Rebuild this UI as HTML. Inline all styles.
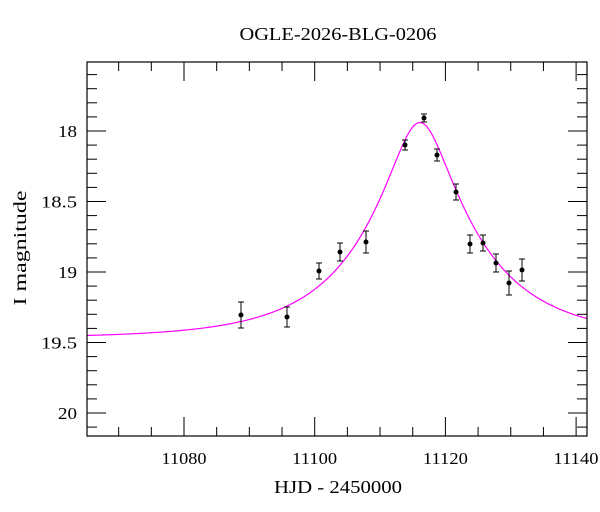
<!DOCTYPE html>
<html><head><meta charset="utf-8"><style>
html,body{margin:0;padding:0;background:#fff;}
svg{display:block;font-family:"Liberation Serif",serif;}
</style></head><body>
<svg id="s" width="600" height="512" xmlns="http://www.w3.org/2000/svg">
<rect x="0" y="0" width="600" height="512" fill="#fff"/>
<text x="338" y="40" font-size="18" text-anchor="middle" textLength="197" lengthAdjust="spacingAndGlyphs">OGLE-2026-BLG-0206</text>
<g id="ticks" stroke="#000" stroke-width="1"></g>
<path id="curve" fill="none" stroke="#ff00ff" stroke-width="1.2"/>
<g id="pts"></g>
<rect x="87" y="62" width="500" height="374" fill="none" stroke="#000" stroke-width="1.2"/>
<g font-size="17" text-anchor="middle">
<text x="184" y="464" textLength="45" lengthAdjust="spacingAndGlyphs">11080</text>
<text x="314.7" y="464" textLength="45" lengthAdjust="spacingAndGlyphs">11100</text>
<text x="445.4" y="464" textLength="45" lengthAdjust="spacingAndGlyphs">11120</text>
<text x="576" y="464" textLength="45" lengthAdjust="spacingAndGlyphs">11140</text>
</g>
<g font-size="17" text-anchor="end">
<text x="77" y="137" textLength="19" lengthAdjust="spacingAndGlyphs">18</text>
<text x="77" y="207.5" textLength="36" lengthAdjust="spacingAndGlyphs">18.5</text>
<text x="77" y="278" textLength="19" lengthAdjust="spacingAndGlyphs">19</text>
<text x="77" y="348.5" textLength="36" lengthAdjust="spacingAndGlyphs">19.5</text>
<text x="77" y="419" textLength="19" lengthAdjust="spacingAndGlyphs">20</text>
</g>
<text x="338" y="493" font-size="18" text-anchor="middle" textLength="128" lengthAdjust="spacingAndGlyphs">HJD - 2450000</text>
<text transform="translate(26,248) rotate(-90)" font-size="18" text-anchor="middle" textLength="115" lengthAdjust="spacingAndGlyphs">I magnitude</text>
</svg>
<script>
function X(t){return 184+(t-11080)*6.535;}
function Y(m){return 131+(m-18)*141;}
var g=document.getElementById('ticks'),h='';
for(var t=11065;t<=11141;t+=5){var x=X(t);if(x<87||x>587)continue;var L=(t%20==0)?19:9;
h+='<line x1="'+x+'" y1="436" x2="'+x+'" y2="'+(436-L)+'"/><line x1="'+x+'" y1="62" x2="'+x+'" y2="'+(62+L)+'"/>';}
for(var i=176;i<=201;i++){var m=i/10,y=Y(m);if(y<62||y>436)continue;var L=(i%5==0)?19:10;
h+='<line x1="87" y1="'+y+'" x2="'+(87+L)+'" y2="'+y+'"/><line x1="587" y1="'+y+'" x2="'+(587-L)+'" y2="'+y+'"/>';}
g.innerHTML=h;
var d='';for(var x=87;x<=587;x+=1){var t=11080+(x-184)/6.535,tau=(t-11116.1)/17.5,u=Math.sqrt(0.0625+tau*tau);
var A=(u*u+2)/(u*Math.sqrt(u*u+4));var m=19.47-2.5*Math.log10(A);d+=(x==87?'M':'L')+x+' '+Y(m).toFixed(2);}
document.getElementById('curve').setAttribute('d',d);
var P=[[241,315,13],[287,317,10],[319,271,8],[340,252,9],[366,242,11],[405,145,5],[424,118,4],[437,155,6],[456,192,8],[470,244,9],[483,243,8],[496,263,9],[509,283,12],[522,270,11]];
var s='';P.forEach(function(p){s+='<line x1="'+p[0]+'" y1="'+(p[1]-p[2])+'" x2="'+p[0]+'" y2="'+(p[1]+p[2])+'" stroke="#000"/>'+
'<line x1="'+(p[0]-3)+'" y1="'+(p[1]-p[2])+'" x2="'+(p[0]+3)+'" y2="'+(p[1]-p[2])+'" stroke="#000"/>'+
'<line x1="'+(p[0]-3)+'" y1="'+(p[1]+p[2])+'" x2="'+(p[0]+3)+'" y2="'+(p[1]+p[2])+'" stroke="#000"/>'+
'<circle cx="'+p[0]+'" cy="'+p[1]+'" r="2.5" fill="#000"/>';});
document.getElementById('pts').innerHTML=s;
</script>
</body></html>
